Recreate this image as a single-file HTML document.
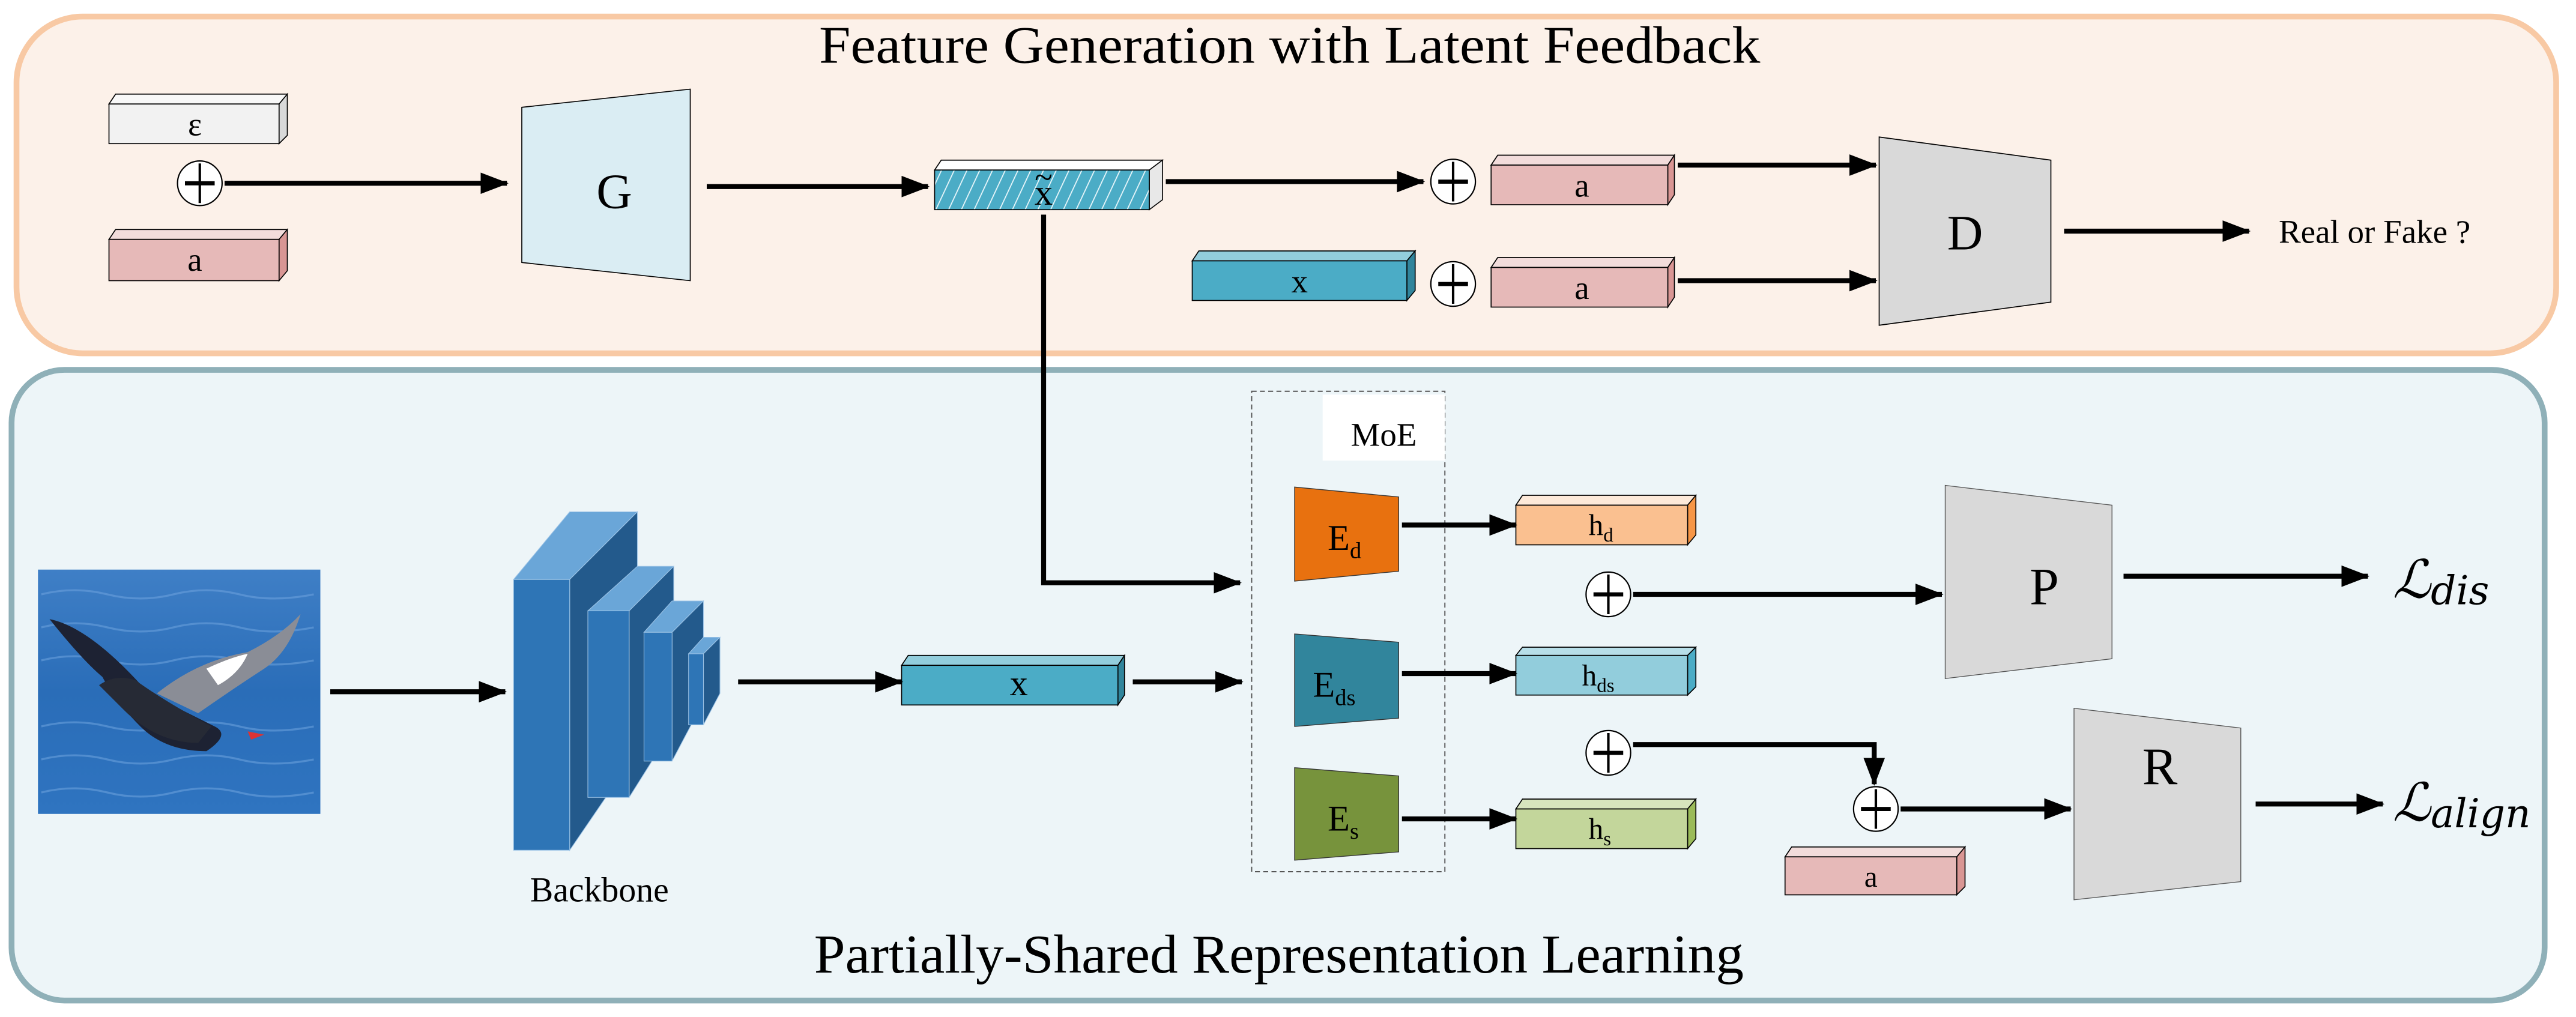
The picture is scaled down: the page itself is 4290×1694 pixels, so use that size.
<!DOCTYPE html>
<html><head><meta charset="utf-8"><style>html,body{margin:0;padding:0;background:#fff}svg{display:block}</style></head>
<body>
<svg xmlns="http://www.w3.org/2000/svg" width="4290" height="1694" viewBox="0 0 1560 616" preserveAspectRatio="none" font-family="'Liberation Serif','DejaVu Serif',serif">
<defs>
<marker id="ah" markerUnits="userSpaceOnUse" markerWidth="17" markerHeight="13" refX="16" refY="6.5" orient="auto"><path d="M0,0 L17,6.5 L0,13 Z" fill="#000"/></marker>
<pattern id="hatch" patternUnits="userSpaceOnUse" width="7" height="7" patternTransform="rotate(25)"><rect width="7" height="7" fill="#4bacc6"/><line x1="0" y1="0" x2="0" y2="7" stroke="#e8f6fa" stroke-width="1.3"/></pattern>
<linearGradient id="sea" x1="0" y1="0" x2="0" y2="1"><stop offset="0" stop-color="#3f7fc6"/><stop offset="0.5" stop-color="#2a6db8"/><stop offset="1" stop-color="#2f74c0"/></linearGradient>
</defs>

<rect x="10" y="10" width="1538" height="204" rx="40" fill="#fcf1e9" stroke="#f8c9a4" stroke-width="3.5"/>
<rect x="7" y="224" width="1534" height="382" rx="32" fill="#edf5f8" stroke="#8fb0b8" stroke-width="3.5"/>

<text x="496" y="38" font-size="32" textLength="570" lengthAdjust="spacingAndGlyphs">Feature Generation with Latent Feedback</text>
<text x="493" y="589" font-size="33" textLength="563" lengthAdjust="spacingAndGlyphs">Partially-Shared Representation Learning</text>

<g stroke="#000" stroke-width="0.6">
<polygon points="66,63 70,57 174,57 169,63" fill="#f8f8f8"/><polygon points="169,63 174,57 174,82 169,87" fill="#d9d9d9"/><rect x="66" y="63" width="103" height="24" fill="#f2f2f2"/>
<polygon points="66,145 70,139 174,139 169,145" fill="#f2dcdb"/><polygon points="169,145 174,139 174,164 169,170" fill="#d99694"/><rect x="66" y="145" width="103" height="25" fill="#e6b9b8"/>
<polygon points="316,65 418,54 418,170 316,159" fill="#daedf3"/>
<polygon points="566,103 570,97 704,97 696,103" fill="#ffffff"/><polygon points="696,103 704,97 704,121 696,127" fill="#e8e8e8"/><rect x="566" y="103" width="130" height="24" fill="url(#hatch)"/>
<polygon points="903,100 907,94 1014,94 1010,100" fill="#f2dcdb"/><polygon points="1010,100 1014,94 1014,118 1010,124" fill="#d99694"/><rect x="903" y="100" width="107" height="24" fill="#e6b9b8"/>
<polygon points="722,158 726,152 857,152 852,158" fill="#92cddc"/><polygon points="852,158 857,152 857,176 852,182" fill="#31859c"/><rect x="722" y="158" width="130" height="24" fill="#4bacc6"/>
<polygon points="903,162 907,156 1014,156 1010,162" fill="#f2dcdb"/><polygon points="1010,162 1014,156 1014,180 1010,186" fill="#d99694"/><rect x="903" y="162" width="107" height="24" fill="#e6b9b8"/>
<polygon points="1138,83 1242,97 1242,183 1138,197" fill="#d9d9d9"/>
</g>

<g font-size="20" text-anchor="middle">
<text x="118" y="82">ε</text>
<text x="118" y="164">a</text>
<text x="372" y="126" font-size="30">G</text>
<text x="632" y="124" font-size="22">x</text><text x="632" y="114" font-size="20">~</text>
<text x="958" y="119">a</text>
<text x="787" y="177">x</text>
<text x="958" y="181">a</text>
<text x="1190" y="151" font-size="30">D</text>
</g>
<text x="1380" y="147" font-size="20">Real or Fake ?</text>

<g stroke="#000" stroke-width="3" fill="none">
<line x1="136" y1="111" x2="307" y2="111" marker-end="url(#ah)"/>
<line x1="428" y1="113" x2="562" y2="113" marker-end="url(#ah)"/>
<line x1="706" y1="110" x2="862" y2="110" marker-end="url(#ah)"/>
<line x1="1016" y1="100" x2="1136" y2="100" marker-end="url(#ah)"/>
<line x1="1016" y1="170" x2="1136" y2="170" marker-end="url(#ah)"/>
<line x1="1250" y1="140" x2="1362" y2="140" marker-end="url(#ah)"/>
<polyline points="632,130 632,353 751,353" marker-end="url(#ah)"/>
</g>

<g stroke="#000">
<g transform="translate(121,111)"><circle r="13.5" fill="#fff" stroke-width="0.8"/><line x1="-9" y1="0" x2="9" y2="0" stroke-width="2.5"/><line x1="0" y1="-12" x2="0" y2="12" stroke-width="1.5"/></g>
<g transform="translate(880,110)"><circle r="13.5" fill="#fff" stroke-width="0.8"/><line x1="-9" y1="0" x2="9" y2="0" stroke-width="2.5"/><line x1="0" y1="-12" x2="0" y2="12" stroke-width="1.5"/></g>
<g transform="translate(880,172)"><circle r="13.5" fill="#fff" stroke-width="0.8"/><line x1="-9" y1="0" x2="9" y2="0" stroke-width="2.5"/><line x1="0" y1="-12" x2="0" y2="12" stroke-width="1.5"/></g>
<g transform="translate(974,360)"><circle r="13.5" fill="#fff" stroke-width="0.8"/><line x1="-9" y1="0" x2="9" y2="0" stroke-width="2.5"/><line x1="0" y1="-12" x2="0" y2="12" stroke-width="1.5"/></g>
<g transform="translate(974,456)"><circle r="13.5" fill="#fff" stroke-width="0.8"/><line x1="-9" y1="0" x2="9" y2="0" stroke-width="2.5"/><line x1="0" y1="-12" x2="0" y2="12" stroke-width="1.5"/></g>
<g transform="translate(1136,490)"><circle r="13.5" fill="#fff" stroke-width="0.8"/><line x1="-9" y1="0" x2="9" y2="0" stroke-width="2.5"/><line x1="0" y1="-12" x2="0" y2="12" stroke-width="1.5"/></g>
</g>

<rect x="23" y="345" width="171" height="148" fill="url(#sea)"/>
<g stroke="#6aa0dc" stroke-width="1.2" fill="none" opacity="0.6">
<path d="M25,360 q20,-5 40,0 t40,0 t40,0 t45,0"/><path d="M25,380 q20,-5 40,0 t40,0 t40,0 t45,0"/><path d="M25,400 q20,-5 40,0 t40,0 t40,0 t45,0"/><path d="M25,440 q20,-5 40,0 t40,0 t40,0 t45,0"/><path d="M25,460 q20,-5 40,0 t40,0 t40,0 t45,0"/><path d="M25,480 q20,-5 40,0 t40,0 t40,0 t45,0"/>
</g>
<path d="M30,375 Q55,380 90,420 Q110,430 130,440 Q140,445 125,455 Q100,455 85,440 Q70,425 62,410 Q50,400 30,375Z" fill="#1d2233"/>
<path d="M95,420 Q120,400 150,395 Q170,385 182,372 Q175,395 160,405 Q140,418 120,432Z" fill="#8a8d96"/>
<path d="M125,405 Q140,398 150,396 Q145,408 132,415Z" fill="#fff"/>
<path d="M60,415 Q70,408 82,412 Q100,425 128,440 L120,450 Q95,450 75,430Z" fill="#262a35"/>
<path d="M150,443 L160,445 L152,448Z" fill="#d33"/>

<g stroke="#9cc3e6" stroke-width="0.4">
<polygon points="311,351 345,310 386,310 345,351" fill="#6aa6d8"/><polygon points="345,351 386,310 386,455 345,515" fill="#235a8c"/><rect x="311" y="351" width="34" height="164" fill="#2e75b6"/>
<polygon points="356,370 386,343 408,343 381,370" fill="#6aa6d8"/><polygon points="381,370 408,343 408,440 381,483" fill="#235a8c"/><rect x="356" y="370" width="25" height="113" fill="#2e75b6"/>
<polygon points="390,383 407,364 426,364 407,383" fill="#6aa6d8"/><polygon points="407,383 426,364 426,425 407,461" fill="#235a8c"/><rect x="390" y="383" width="17" height="78" fill="#2e75b6"/>
<polygon points="417,396 426,386 436,386 426,396" fill="#6aa6d8"/><polygon points="426,396 436,386 436,420 426,439" fill="#235a8c"/><rect x="417" y="396" width="9" height="43" fill="#2e75b6"/>
</g>
<text x="363" y="546" font-size="21" text-anchor="middle">Backbone</text>

<g stroke="#000" stroke-width="0.6">
<polygon points="546,403 550,397 681,397 677,403" fill="#92cddc"/><polygon points="677,403 681,397 681,421 677,427" fill="#31859c"/><rect x="546" y="403" width="131" height="24" fill="#4bacc6"/>
</g>
<text x="617" y="421" font-size="22" text-anchor="middle">x</text>

<rect x="758" y="237" width="117" height="291" fill="none" stroke="#555" stroke-width="0.7" stroke-dasharray="3,2"/>
<rect x="801" y="239" width="74" height="40" fill="#fff"/>
<text x="838" y="270" font-size="20" text-anchor="middle">MoE</text>

<g stroke="#333" stroke-width="0.5">
<polygon points="784,295 847,301 847,346 784,352" fill="#e8710f"/>
<polygon points="784,384 847,389 847,435 784,440" fill="#31859c"/>
<polygon points="784,465 847,470 847,516 784,521" fill="#77933c"/>
</g>
<g font-size="22">
<text x="804" y="333">E<tspan font-size="14" dy="5">d</tspan></text>
<text x="795" y="422">E<tspan font-size="14" dy="5">ds</tspan></text>
<text x="804" y="503">E<tspan font-size="14" dy="5">s</tspan></text>
</g>

<g stroke="#000" stroke-width="0.6">
<polygon points="918,306 922,300 1027,300 1022,306" fill="#fde9d9"/><polygon points="1022,306 1027,300 1027,324 1022,330" fill="#f79646"/><rect x="918" y="306" width="104" height="24" fill="#fac090"/>
<polygon points="918,397 922,392 1027,392 1022,397" fill="#b7dee8"/><polygon points="1022,397 1027,392 1027,416 1022,421" fill="#4bacc6"/><rect x="918" y="397" width="104" height="24" fill="#92cddc"/>
<polygon points="918,490 922,484 1027,484 1022,490" fill="#d7e4bd"/><polygon points="1022,490 1027,484 1027,508 1022,514" fill="#9bbb59"/><rect x="918" y="490" width="104" height="24" fill="#c3d69b"/>
<polygon points="1081,519 1085,513 1190,513 1185,519" fill="#f2dcdb"/><polygon points="1185,519 1190,513 1190,537 1185,542" fill="#d99694"/><rect x="1081" y="519" width="104" height="23" fill="#e6b9b8"/>
</g>
<g font-size="18">
<text x="962" y="324">h<tspan font-size="12" dy="4">d</tspan></text>
<text x="958" y="415">h<tspan font-size="12" dy="4">ds</tspan></text>
<text x="962" y="508">h<tspan font-size="12" dy="4">s</tspan></text>
<text x="1133" y="537" text-anchor="middle">a</text>
</g>

<g stroke="#555" stroke-width="0.5">
<polygon points="1178,294 1279,306 1279,399 1178,411" fill="#d9d9d9"/>
<polygon points="1256,429 1357,441 1357,534 1256,545" fill="#d9d9d9"/>
</g>
<text x="1238" y="366" font-size="32" text-anchor="middle">P</text>
<text x="1308" y="475" font-size="32" text-anchor="middle">R</text>

<g font-size="32" font-style="italic">
<text x="1449" y="362">ℒ<tspan font-size="24" dy="4" font-family="'DejaVu Serif',serif">dis</tspan></text>
<text x="1449" y="497">ℒ<tspan font-size="24" dy="4" font-family="'DejaVu Serif',serif">align</tspan></text>
</g>

<g stroke="#000" stroke-width="3" fill="none">
<line x1="200" y1="419" x2="306" y2="419" marker-end="url(#ah)"/>
<line x1="447" y1="413" x2="546" y2="413" marker-end="url(#ah)"/>
<line x1="686" y1="413" x2="752" y2="413" marker-end="url(#ah)"/>
<line x1="849" y1="318" x2="918" y2="318" marker-end="url(#ah)"/>
<line x1="849" y1="408" x2="918" y2="408" marker-end="url(#ah)"/>
<line x1="849" y1="496" x2="918" y2="496" marker-end="url(#ah)"/>
<line x1="989" y1="360" x2="1176" y2="360" marker-end="url(#ah)"/>
<line x1="1286" y1="349" x2="1434" y2="349" marker-end="url(#ah)"/>
<polyline points="989,451 1135,451 1135,475" marker-end="url(#ah)"/>
<line x1="1151" y1="490" x2="1254" y2="490" marker-end="url(#ah)"/>
<line x1="1366" y1="487" x2="1443" y2="487" marker-end="url(#ah)"/>
</g>
</svg>
</body></html>
